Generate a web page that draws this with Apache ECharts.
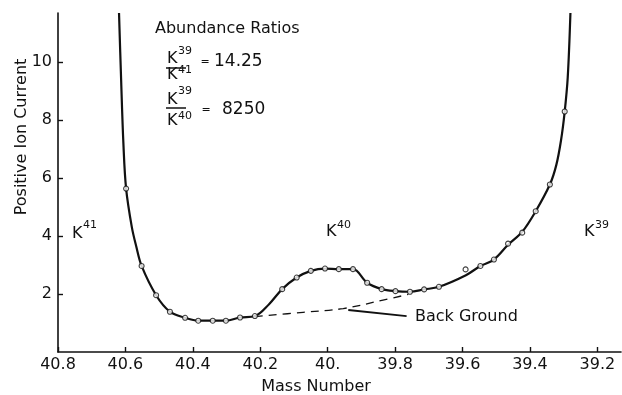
<!DOCTYPE html>
<html>
<head>
<meta charset="utf-8">
<script src="https://cdn.jsdelivr.net/npm/echarts@6/dist/echarts.min.js"></script>
<style>
  html, body { margin: 0; padding: 0; background: #fff; }
  #chart { width: 622px; height: 395px; }
</style>
</head>
<body>
<div id="chart"></div>
<script>
// tick values / labels
var xTicks = [40.8, 40.6, 40.4, 40.2, 40.0, 39.8, 39.6, 39.4, 39.2];
var xTickLabels = ['40.8', '40.6', '40.4', '40.2', '40.', '39.8', '39.6', '39.4', '39.2'];
var yTicks = [2, 4, 6, 8, 10];

// measured points (circles)
var markerX = [40.598, 40.552, 40.509, 40.468, 40.423, 40.384, 40.341, 40.302, 40.260, 40.216,
  40.135, 40.092, 40.050, 40.008, 39.967, 39.925, 39.883, 39.840, 39.799, 39.756,
  39.714, 39.670, 39.591, 39.547, 39.507, 39.465, 39.423, 39.383, 39.341, 39.297];
var markerY = [5.64, 2.97, 1.96, 1.39, 1.18, 1.08, 1.08, 1.08, 1.19, 1.24,
  2.17, 2.57, 2.80, 2.88, 2.86, 2.86, 2.39, 2.17, 2.10, 2.08,
  2.16, 2.25, 2.85, 2.97, 3.19, 3.74, 4.12, 4.86, 5.78, 8.30];

// drawn curve
var curveX = [40.619, 40.613, 40.606, 40.598, 40.581, 40.568, 40.552, 40.509, 40.468, 40.423,
  40.384, 40.341, 40.302, 40.260, 40.216, 40.174, 40.135, 40.092, 40.050, 40.008,
  39.967, 39.925, 39.883, 39.840, 39.799, 39.756, 39.714, 39.670, 39.590, 39.547,
  39.507, 39.465, 39.423, 39.383, 39.341, 39.322, 39.308, 39.297, 39.288, 39.280];
var curveY = [11.7, 9.48, 7.19, 5.64, 4.31, 3.65, 2.97, 1.96, 1.39, 1.18,
  1.08, 1.08, 1.08, 1.19, 1.24, 1.65, 2.17, 2.57, 2.80, 2.88,
  2.86, 2.86, 2.39, 2.17, 2.10, 2.08, 2.16, 2.25, 2.65, 2.97,
  3.19, 3.70, 4.15, 4.86, 5.78, 6.45, 7.30, 8.30, 9.48, 11.7];

// dashed background
var bgX = [40.216, 40.073, 39.954, 39.836, 39.761];
var bgY = [1.22, 1.37, 1.50, 1.79, 1.99];

// arrow to background (from label to line)
var arrowFrom = [39.766, 1.24];
var arrowTo = [39.939, 1.45];

var FONT = 'DejaVu Sans';
var INK = '#111';

function zip(xs, ys) {
  return xs.map(function (x, i) { return [x, ys[i]]; });
}

function txt(x, y, s, size, align) {
  return {
    type: 'text', x: x, y: y, silent: true,
    style: { text: s, fontSize: size, fontFamily: FONT, fill: INK, align: align || 'left', verticalAlign: 'middle' }
  };
}

// K with mass number as superscript
function iso(x, y, mass, dy) {
  return [txt(x, y, 'K', 16), txt(x + 11, y + dy, mass, 11)];
}

function bar(x1, x2, y) {
  return { type: 'line', silent: true, shape: { x1: x1, y1: y, x2: x2, y2: y }, style: { stroke: INK, lineWidth: 1.5 } };
}

var graphics = [].concat(
  [txt(155, 29, 'Abundance Ratios', 16)],
  iso(167, 59, '39', -8), [bar(166, 186, 68)], iso(167, 75, '41', -5),
  [txt(205, 62, '=', 11, 'center'), txt(214, 62, '14.25', 17)],
  iso(167, 100, '39', -9), [bar(166, 186, 108)], iso(167, 121, '40', -5),
  [txt(206, 110, '=', 11, 'center'), txt(222, 110, '8250', 17)],
  iso(72, 234, '41', -9), iso(326, 232, '40', -7), iso(584, 232, '39', -7),
  [txt(415, 317, 'Back Ground', 16)],
  [txt(316, 387, 'Mass Number', 16, 'center')],
  [{
    type: 'text', x: 22, y: 137, rotation: Math.PI / 2, silent: true,
    style: { text: 'Positive Ion Current', fontSize: 16, fontFamily: FONT, fill: INK, align: 'center', verticalAlign: 'middle' }
  }]
);

var chart = echarts.init(document.getElementById('chart'));
var option = {
  animation: false,
  backgroundColor: '#fff',
  textStyle: { fontFamily: FONT, color: INK },
  grid: { left: 58, right: 1, top: 13, bottom: 43, containLabel: false },
  xAxis: {
    type: 'value',
    inverse: true,
    min: 39.13,
    max: 40.8,
    axisLine: { lineStyle: { color: INK, width: 1.6 } },
    axisTick: { inside: true, length: 5, customValues: xTicks, lineStyle: { color: INK, width: 1.4 } },
    axisLabel: {
      customValues: xTicks,
      margin: 5,
      fontSize: 16,
      fontFamily: FONT,
      color: INK,
      formatter: function (v) {
        var i = xTicks.findIndex(function (t) { return Math.abs(t - v) < 1e-6; });
        return i >= 0 ? xTickLabels[i] : '';
      }
    },
    splitLine: { show: false }
  },
  yAxis: {
    type: 'value',
    min: 0,
    max: 11.7,
    axisLine: { show: true, lineStyle: { color: INK, width: 1.6 } },
    axisTick: { show: true, inside: true, length: 5, customValues: yTicks, lineStyle: { color: INK, width: 1.4 } },
    axisLabel: { customValues: yTicks, margin: 6, fontSize: 16, fontFamily: FONT, color: INK },
    splitLine: { show: false }
  },
  graphic: graphics,
  series: [{
    name: 'curve',
    type: 'line',
    data: zip(curveX, curveY),
    smooth: 0.35,
    showSymbol: false,
    lineStyle: { color: INK, width: 2.2 },
    z: 2
  }, {
    name: 'background',
    type: 'line',
    data: zip(bgX, bgY),
    smooth: 0.4,
    showSymbol: false,
    lineStyle: { color: INK, width: 1.3, type: [8, 6] },
    markLine: {
      silent: true,
      symbol: ['none', 'arrow'],
      symbolSize: [0, 9],
      label: { show: false },
      lineStyle: { color: INK, width: 1.8, type: 'solid' },
      data: [[{ coord: arrowFrom }, { coord: arrowTo }]]
    },
    z: 1
  }, {
    name: 'points',
    type: 'scatter',
    data: zip(markerX, markerY),
    symbol: 'circle',
    symbolSize: 5,
    itemStyle: { color: '#fff', borderColor: INK, borderWidth: 1.1 },
    z: 3
  }]
};
chart.setOption(option);
</script>
</body>
</html>
